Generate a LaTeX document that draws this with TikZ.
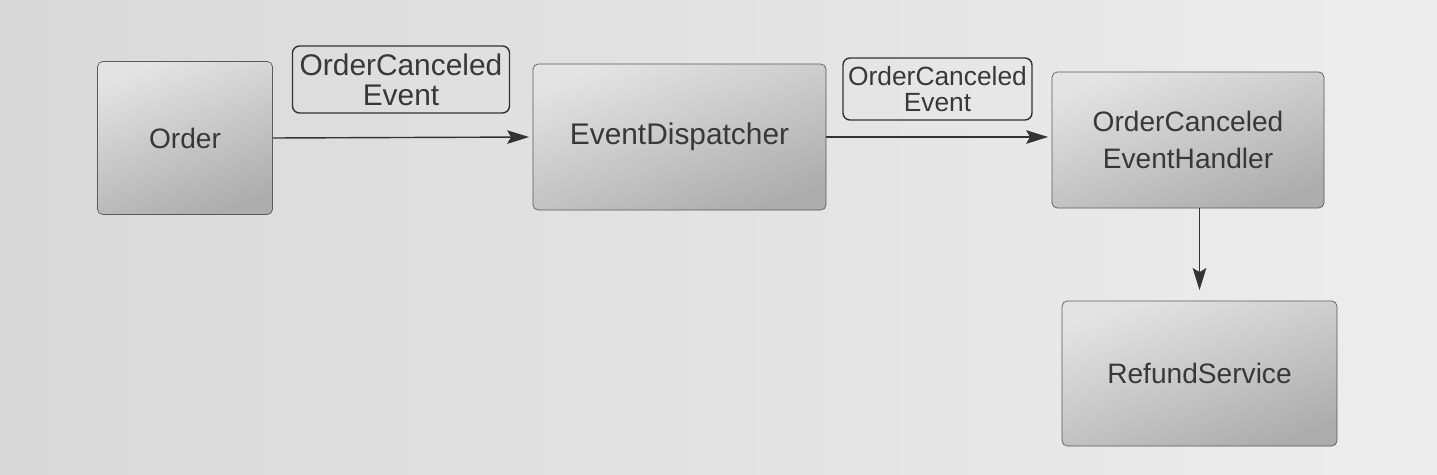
\documentclass[tikz,border=0pt]{standalone}
\usepackage{fontspec}
\setmainfont{Liberation Sans}
\usetikzlibrary{arrows.meta}
\tikzset{>={Stealth[length=4.4mm,width=2.7mm,inset=0.8mm]},
  comp/.style={draw=black!65, rounded corners=3pt, top color=black!11, bottom color=black!32,
    shading angle=20, text=black!78, align=center, inner sep=0pt,
    font=\fontsize{16}{21}\selectfont},
  msg/.style={draw=black!80, line width=0.8pt, rounded corners=4pt,
    text=black!78, align=center, inner sep=0pt, font=\fontsize{16}{17}\selectfont},
  flow/.style={->, draw=black!80, line width=0.8pt}}

\begin{document}
\begin{tikzpicture}
\shade[left color=black!15, right color=black!7] (0,0) rectangle (28.74,-9.5);
\useasboundingbox (0,0) rectangle (28.74,-9.5);
\node[comp, minimum width=3.5cm, minimum height=3.06cm] (order) at (3.70,-2.76) {Order};
\node[comp, minimum width=5.86cm, minimum height=2.92cm, font=\fontsize{17}{21}\selectfont] (disp) at (13.59,-2.74) {EventDispatcher};
\node[comp, minimum width=5.44cm, minimum height=2.72cm] (hdl) at (23.76,-2.8) {OrderCanceled\\EventHandler};
\node[comp, minimum width=5.5cm, minimum height=2.9cm] (refund) at (23.99,-7.47) {RefundService};
\node[msg, minimum width=4.34cm, minimum height=1.34cm, font=\fontsize{17}{17}\selectfont] (evt1) at (8.02,-1.59) {OrderCanceled\\Event};
\node[msg, minimum width=3.78cm, minimum height=1.24cm, font=\fontsize{15}{15}\selectfont] (evt2) at (18.75,-1.78) {OrderCanceled\\Event};
\draw[flow, shorten >=2pt] (order.east) -- (disp.west);
\draw[flow, shorten >=2pt] (disp.east) -- (disp.east -| hdl.west);
\draw[flow, shorten >=6pt] (hdl.south -| refund.north) -- (refund.north);
\end{tikzpicture}
\end{document}
